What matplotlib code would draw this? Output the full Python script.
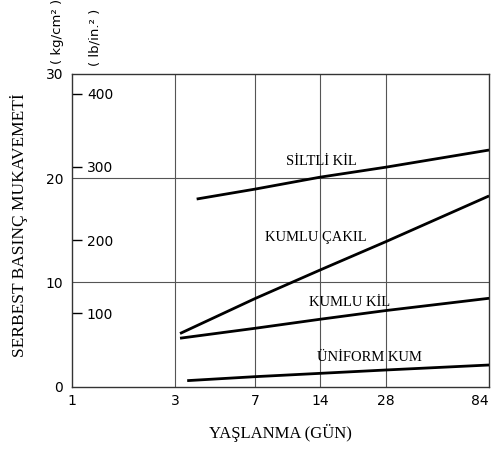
import matplotlib
matplotlib.use("Agg")
import matplotlib.pyplot as plt
import numpy as np

# ---- data ----
x_ticks = [1, 3, 7, 14, 28, 84]
x_tick_labels = ["1", "3", "7", "14", "28", "84"]
y_ticks_kg = [0, 10, 20, 30]
y_ticks_lb = [100, 200, 300, 400]

days_siltli = [3.77, 7, 14, 28, 84]
siltli_kil = [18.0, 18.95, 20.1, 21.05, 22.7]

days_cakil = [3.16, 7, 14, 28, 84]
kumlu_cakil = [5.1, 8.45, 11.2, 13.9, 18.3]

days_kumlukil = [3.16, 7, 14, 28, 84]
kumlu_kil = [4.65, 5.6, 6.47, 7.3, 8.48]

days_uniform = [3.41, 7, 14, 28, 84]
uniform_kum = [0.58, 0.96, 1.28, 1.6, 2.08]

series = [
    ("SİLTLİ KİL", days_siltli, siltli_kil, (14.1, 21.6)),
    ("KUMLU ÇAKIL", days_cakil, kumlu_cakil, (13.4, 14.3)),
    ("KUMLU KİL", days_kumlukil, kumlu_kil, (19.2, 8.1)),
    ("ÜNİFORM KUM", days_uniform, uniform_kum, (23.5, 2.8)),
]

KG_PER_LB = 0.070307

fig = plt.figure(figsize=(4.94, 4.5), dpi=100)
ax = fig.add_axes([0.145, 0.1407, 0.845, 0.695])

ax.set_xscale("log")
ax.set_xlim(1, 84)
ax.set_ylim(0, 30)

grid_c = "#555555"
for xv in x_ticks[1:-1]:
    ax.axvline(xv, color=grid_c, lw=0.8, zorder=1)
for yv in y_ticks_kg[1:-1]:
    ax.axhline(yv, color=grid_c, lw=0.8, zorder=1)

for name, xs, ys, lab in series:
    ax.plot(xs, ys, color="black", lw=2.0, solid_capstyle="butt", zorder=3)
    ax.text(lab[0], lab[1], name, family="Liberation Serif", fontsize=10.5,
            ha="center", va="center", zorder=4)

ax.set_xticks(x_ticks)
ax.set_xticklabels(x_tick_labels)
ax.xaxis.set_minor_locator(matplotlib.ticker.NullLocator())
ax.set_yticks(y_ticks_kg)
ax.tick_params(axis="both", length=0, labelsize=10)
ax.tick_params(axis="x", pad=5)
ax.tick_params(axis="y", pad=6)
ax.get_xticklabels()[-1].set_horizontalalignment("right")
ax.get_xticklabels()[-1].set_x(84)

for s in ax.spines.values():
    s.set_linewidth(1.0)
    s.set_color("#333333")

sec = ax.secondary_yaxis(0.0, functions=(lambda k: k / KG_PER_LB,
                                          lambda p: p * KG_PER_LB))
sec.set_yticks(y_ticks_lb)
sec.yaxis.tick_right()
sec.tick_params(direction="out", length=7, width=1.0, labelsize=10, pad=4)
sec.spines["right"].set_visible(False)
sec.spines["left"].set_visible(False)

ax.set_xlabel("YAŞLANMA (GÜN)", family="Liberation Serif", fontsize=12,
              labelpad=12)
ax.set_ylabel("SERBEST BASINÇ MUKAVEMETİ", family="Liberation Serif",
              fontsize=12.5)
ax.yaxis.set_label_coords(-0.105, 0.515)

fig.text(0.116, 0.93, "( kg/cm² )", rotation=90, fontsize=9.5,
         ha="center", va="center")
fig.text(0.192, 0.918, "( lb/in.² )", rotation=90, fontsize=9.5,
         ha="center", va="center")

fig.savefig("out.png", dpi=100)
